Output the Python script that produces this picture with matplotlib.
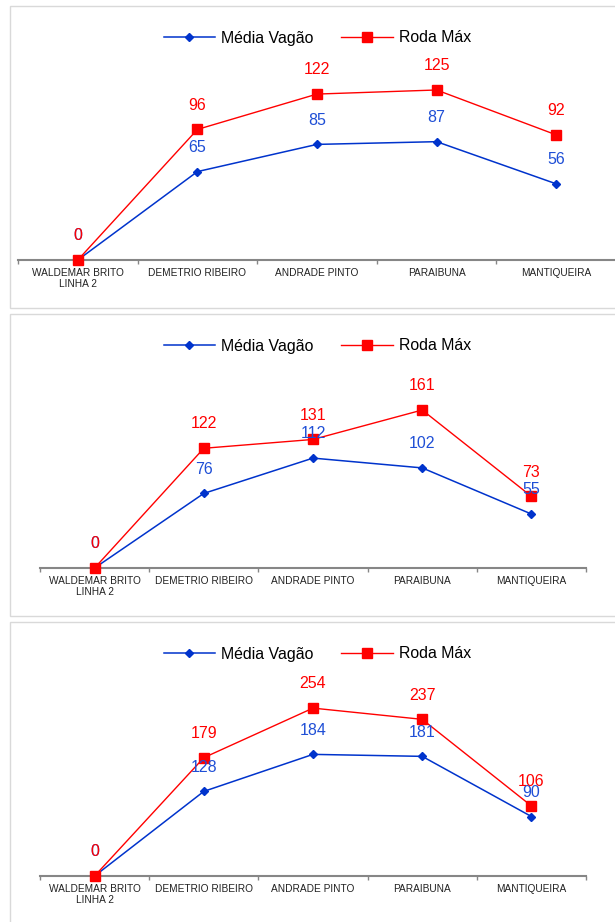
import matplotlib
matplotlib.use('Agg')
import matplotlib.pyplot as plt
from matplotlib.patches import Rectangle

plt.rcParams['font.family'] = ['Liberation Sans', 'DejaVu Sans']

# data
categorias = ['WALDEMAR BRITO\nLINHA 2', 'DEMETRIO RIBEIRO', 'ANDRADE PINTO', 'PARAIBUNA', 'MANTIQUEIRA']
media_1 = [0, 65, 85, 87, 56]
roda_1 = [0, 96, 122, 125, 92]
media_2 = [0, 76, 112, 102, 55]
roda_2 = [0, 122, 131, 161, 73]
media_3 = [0, 128, 184, 181, 90]
roda_3 = [0, 179, 254, 237, 106]

W, H = 615, 922
AZUL = '#0033cc'
AZUL_TXT = '#1f4fd6'
VERMELHO = '#ff0000'

fig = plt.figure(figsize=(W / 100, H / 100), dpi=100)


def fx(px):
    return px / W


def fy(py):
    return 1 - py / H


# (topo do quadro, eixo x esquerda, eixo x direita, ymax)
paineis = [
    (6, 18, 616, 154.4, media_1, roda_1),
    (314, 40, 586, 214.0, media_2, roda_2),
    (622, 40, 586, 317.7, media_3, roda_3),
]

for topo, x0, x1, ymax, media, roda in paineis:
    # quadro cinza claro
    fig.add_artist(Rectangle((fx(10), fy(topo + 302)), fx(640), 302 / H,
                             transform=fig.transFigure, facecolor='white',
                             edgecolor='#d9d9d9', lw=1.0, zorder=0))

    eixo_y = topo + 254
    ax = fig.add_axes([fx(x0), fy(eixo_y), fx(x1 - x0), 210 / H])
    ax.patch.set_alpha(0)
    x = list(range(len(categorias)))

    ax.plot(x, media, color=AZUL, lw=1.1, marker='D', ms=4.3,
            label='Média Vagão', clip_on=False, zorder=3)
    ax.plot(x, roda, color=VERMELHO, lw=1.0, marker='s', ms=6.5,
            label='Roda Máx', clip_on=False, zorder=4)

    for xi, v in zip(x, media):
        ax.annotate(str(v), (xi, v), xytext=(0, 17.5), textcoords='offset points',
                    ha='center', va='center', fontsize=11.5, color=AZUL_TXT, zorder=5)
    for xi, v in zip(x, roda):
        ax.annotate(str(v), (xi, v), xytext=(0, 17.5), textcoords='offset points',
                    ha='center', va='center', fontsize=11.5, color=VERMELHO, zorder=6)

    ax.set_xlim(-0.5, len(categorias) - 0.5)
    ax.set_ylim(0, ymax)
    for s in ['top', 'right', 'left']:
        ax.spines[s].set_visible(False)
    ax.spines['bottom'].set_color('#868686')
    ax.spines['bottom'].set_linewidth(1.5)
    ax.set_yticks([])
    ax.set_xticks(x)
    ax.set_xticklabels(categorias, fontsize=7.3, color='#222222', linespacing=1.2)
    ax.tick_params(axis='x', length=0, pad=5.5)
    ax.set_xticks([i - 0.5 for i in range(len(categorias) + 1)], minor=True)
    ax.tick_params(axis='x', which='minor', length=3, width=1, color='#868686')

    ax.legend(loc='center', bbox_to_anchor=(fx(317.5), fy(topo + 32)),
              bbox_transform=fig.transFigure, ncol=2, frameon=False,
              fontsize=11.4, handlelength=3.25, handletextpad=0.4,
              columnspacing=1.75, borderpad=0)

fig.savefig('out.png', dpi=100)
